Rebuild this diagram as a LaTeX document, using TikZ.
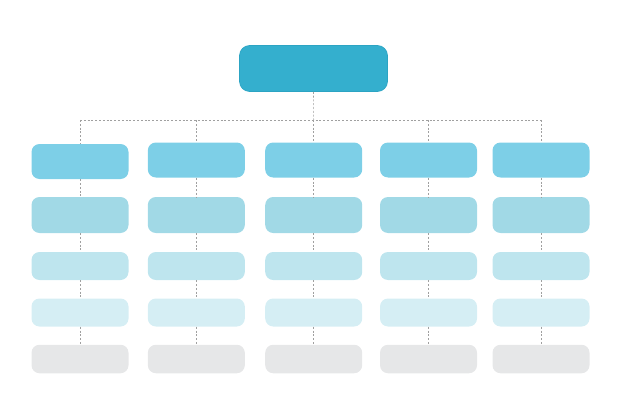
\documentclass[tikz,border=0pt]{standalone}
\usepackage{tikz}
\usepackage{xcolor}

\definecolor{headblue}{HTML}{34AFCE}
\definecolor{headline}{HTML}{2CA4C3}
\definecolor{rowA}{HTML}{7DCFE7}
\definecolor{rowB}{HTML}{A1D9E6}
\definecolor{rowC}{HTML}{BEE5EE}
\definecolor{rowD}{HTML}{D5EEF4}
\definecolor{rowE}{HTML}{E6E7E8}
\definecolor{linkgray}{HTML}{A0A0A0}

\tikzset{
  headbox/.style={draw=headline, line width=0.6pt, fill=headblue, rounded corners=10pt,
    minimum width=148pt, minimum height=46pt, inner sep=0pt},
  cellbox/.style={rounded corners=8pt, minimum width=97pt, inner sep=0pt},
  link/.style={draw=linkgray, line width=0.6pt, dash pattern=on 2pt off 1.8pt}
}

\begin{document}
\begin{tikzpicture}[x=1pt,y=-1pt]
    \useasboundingbox (0,0) rectangle (626,417);

    \node[headbox] (top) at (313.5,68.5) {};

    \foreach \c / \x / \yA in {1/80/161.5,2/196.3/160,3/313.7/160,4/428.5/160,5/541/160} {
        \coordinate (bus\c) at (\x,120);
        \foreach \r / \y / \h / \col in {1/\yA/35/rowA,2/215/36/rowB,3/266/28/rowC,4/312.5/28/rowD,5/359/28.5/rowE} {
            \node[cellbox, fill=\col, minimum height=\h pt] (b\c-\r) at (\x,\y) {};
        };
        \draw[link] (bus\c) -- (b\c-1.north);
        \foreach \r [evaluate=\r as \n using int(\r+1)] in {1,2,3,4} {
            \draw[link] (b\c-\r.south) -- (b\c-\n.north);
        };
    };

    \draw[link] (top.south) -- (bus3);
    \draw[link] (bus1) -- (bus5);
\end{tikzpicture}
\end{document}
